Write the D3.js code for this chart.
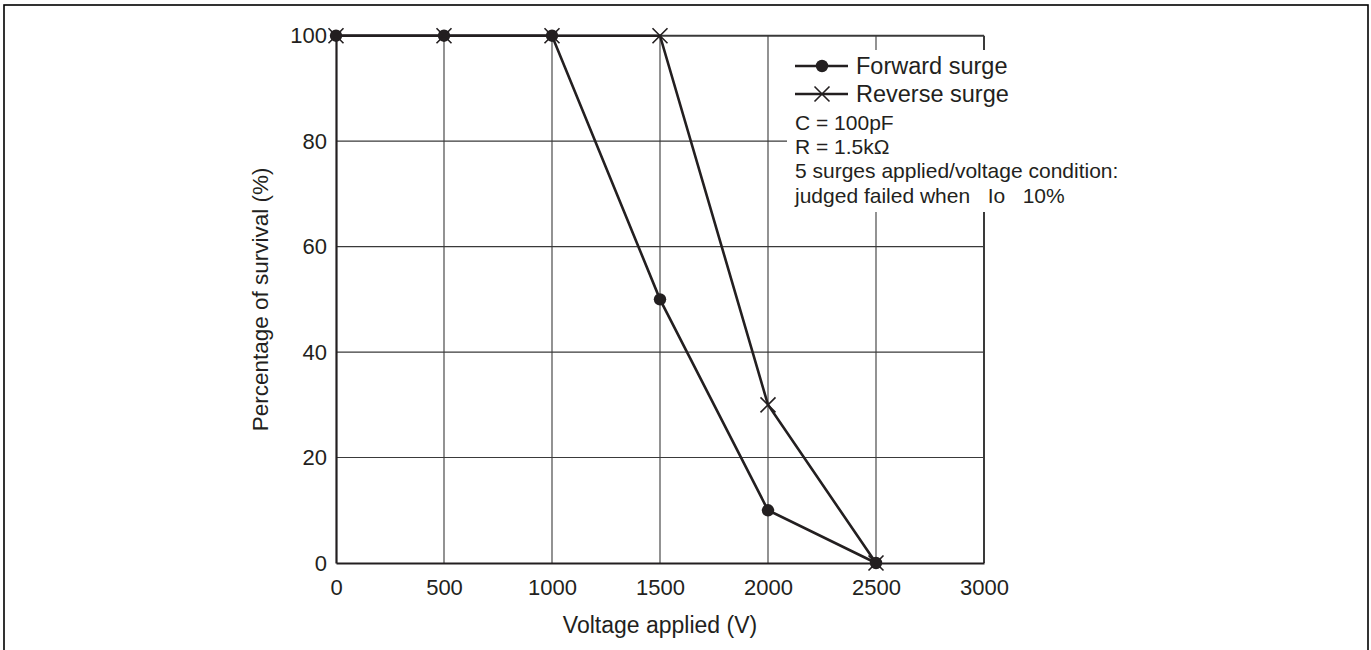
<!DOCTYPE html>
<html>
<head>
<meta charset="utf-8">
<script src="https://cdn.jsdelivr.net/npm/d3@7"></script>
<style>
  html, body { margin: 0; padding: 0; background: #fff; }
  svg { display: block; font-family: "Liberation Sans", Arial, sans-serif; }
</style>
</head>
<body>
<svg id="chart" width="1371" height="650"></svg>
<script>
// data
const voltages = [0, 500, 1000, 1500, 2000, 2500];
const forwardSurvival = [100, 100, 100, 50, 10, 0];
const reverseSurvival = [100, 100, 100, 100, 30, 0];
const xTicks = [0, 500, 1000, 1500, 2000, 2500, 3000];
const yTicks = [0, 20, 40, 60, 80, 100];
const noteLines = ["C = 100pF", "R = 1.5k\u03A9", "5 surges applied/voltage condition:", "judged failed when   Io   10%"];

const svg = d3.select("#chart");
const ink = "#231f20";

// outer frame
svg.append("rect")
  .attr("x", 4).attr("y", 5)
  .attr("width", 1364).attr("height", 660)
  .attr("fill", "none").attr("stroke", "#000").attr("stroke-width", 1.6);

const x = d3.scaleLinear().domain([0, 3000]).range([336, 984]);
const y = d3.scaleLinear().domain([0, 100]).range([563, 35.7]);

// grid
const grid = svg.append("g");
grid.selectAll(".vg").data(xTicks.slice(1)).join("line")
  .attr("x1", d => x(d)).attr("x2", d => x(d))
  .attr("y1", y(0)).attr("y2", y(100))
  .attr("stroke", "#3a3a3a").attr("stroke-width", d => d === 3000 ? 2 : 1.1);
grid.selectAll(".hg").data(yTicks.slice(1)).join("line")
  .attr("x1", x(0)).attr("x2", x(3000))
  .attr("y1", d => y(d)).attr("y2", d => y(d))
  .attr("stroke", "#3a3a3a").attr("stroke-width", d => d === 100 ? 2 : 1.1);

// legend backdrop (covers grid)
svg.append("rect")
  .attr("x", 787).attr("y", 50)
  .attr("width", 340).attr("height", 162)
  .attr("fill", "#fff");

// axes
const xAxis = svg.append("g")
  .attr("transform", `translate(0,${y(0)})`)
  .call(d3.axisBottom(x).tickValues(xTicks).tickSize(0).tickPadding(16).tickFormat(d3.format("d")));
const yAxis = svg.append("g")
  .attr("transform", `translate(${x(0)},0)`)
  .call(d3.axisLeft(y).tickValues(yTicks).tickSize(0).tickPadding(9).tickFormat(d3.format("d")));
[xAxis, yAxis].forEach(a => {
  a.select(".domain").attr("stroke", ink).attr("stroke-width", 2.2);
  a.selectAll("text").attr("font-size", 22).attr("fill", ink).attr("font-family", null);
  a.attr("font-family", null);
});

// axis titles
svg.append("text")
  .attr("x", (x(0) + x(3000)) / 2).attr("y", 633)
  .attr("text-anchor", "middle").attr("font-size", 23).attr("fill", ink)
  .text("Voltage applied (V)");
svg.append("text")
  .attr("transform", `translate(268,${(y(0) + y(100)) / 2}) rotate(-90)`)
  .attr("text-anchor", "middle").attr("font-size", 22.5).attr("fill", ink)
  .text("Percentage of survival (%)");

// series
const line = d3.line().x(d => x(d[0])).y(d => y(d[1]));
const fwd = voltages.map((v, i) => [v, forwardSurvival[i]]);
const rev = voltages.map((v, i) => [v, reverseSurvival[i]]);

function cross(sel, s) {
  sel.append("path")
    .attr("d", `M${-s},${-s}L${s},${s}M${-s},${s}L${s},${-s}`)
    .attr("stroke", ink).attr("stroke-width", 1.6).attr("fill", "none");
}

[fwd, rev].forEach(pts => {
  svg.append("path").datum(pts)
    .attr("d", line)
    .attr("fill", "none").attr("stroke", ink).attr("stroke-width", 2.6);
});

svg.selectAll(".fdot").data(fwd).join("circle")
  .attr("cx", d => x(d[0])).attr("cy", d => y(d[1]))
  .attr("r", 6.2).attr("fill", ink);

svg.selectAll(".rx").data(rev).join("g")
  .attr("transform", d => `translate(${x(d[0])},${y(d[1])})`)
  .call(cross, 7.5);

// legend
const leg = svg.append("g");
const items = [{ name: "Forward surge", mark: "dot", cy: 66 }, { name: "Reverse surge", mark: "x", cy: 94 }];
items.forEach(it => {
  leg.append("line")
    .attr("x1", 795).attr("x2", 848).attr("y1", it.cy).attr("y2", it.cy)
    .attr("stroke", ink).attr("stroke-width", 2.4);
  if (it.mark === "dot") {
    leg.append("circle").attr("cx", 822).attr("cy", it.cy).attr("r", 6.2).attr("fill", ink);
  } else {
    leg.append("g").attr("transform", `translate(822,${it.cy})`).call(cross, 7.5);
  }
  leg.append("text")
    .attr("x", 856).attr("y", it.cy + 7.5)
    .attr("font-size", 23.5).attr("fill", ink)
    .text(it.name);
});

leg.selectAll(".note").data(noteLines).join("text")
  .attr("x", 795).attr("y", (d, i) => 130 + i * 24.2)
  .attr("font-size", 21).attr("fill", ink)
  .style("white-space", "pre")
  .text(d => d);
</script>
</body>
</html>
